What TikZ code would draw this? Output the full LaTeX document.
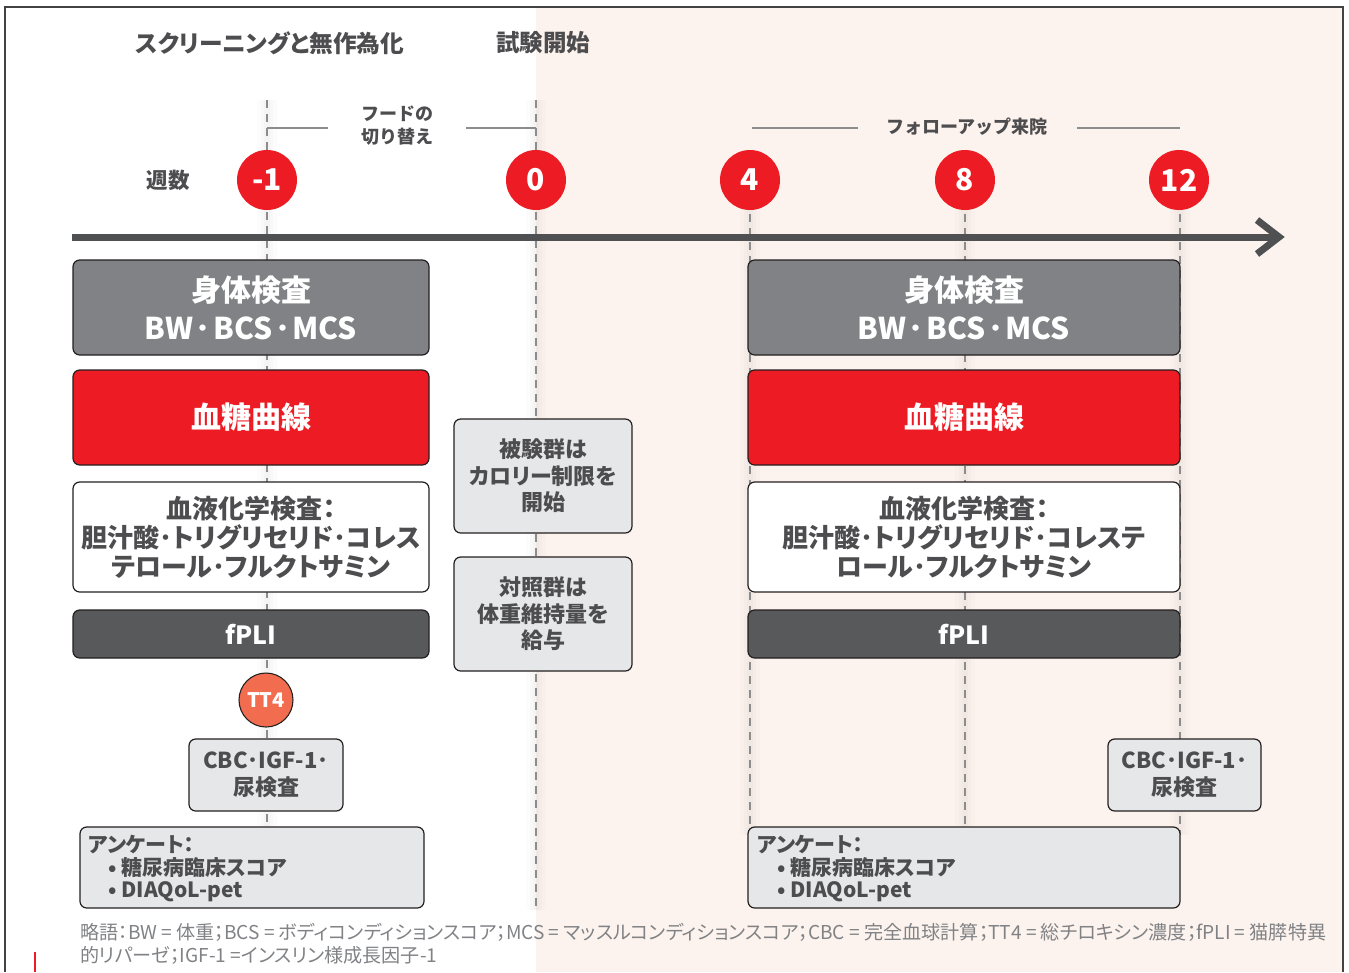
\documentclass[tikz,border=0pt]{standalone}
\usepackage{fontspec}
\setmainfont{Noto Sans CJK JP}[RawFeature=+palt]
\newfontfamily\jpfull{Noto Sans CJK JP}
\usetikzlibrary{calc}
\definecolor{txt}{HTML}{4D4D4F}
\definecolor{redc}{HTML}{ED1C24}
\definecolor{grayc}{HTML}{808285}
\definecolor{darkc}{HTML}{58595B}
\definecolor{lightc}{HTML}{E6E7E8}
\definecolor{tt}{HTML}{F26C4F}
\definecolor{pinkbg}{HTML}{FDF3EE}
\definecolor{edge}{HTML}{231F20}
\definecolor{dashc}{HTML}{8C8C8C}
\definecolor{foot}{HTML}{808285}
\newcommand\pxfont[2]{\pgfmathsetmacro\myfa{#1*0.75}\pgfmathsetmacro\myfb{#2*0.75}\fontsize{\myfa pt}{\myfb pt}\selectfont}
\newcommand\sep{\kern1.9pt･\kern1.9pt}
\begin{document}
\begin{tikzpicture}[x=0.75pt,y=-0.75pt,
  bx/.style 2 args={draw=edge,line width=0.9pt,rounded corners=5pt,inner sep=0pt,
    minimum width=#1*0.75pt,minimum height=#2*0.75pt,align=center},
  f/.style 2 args={font=\pxfont{#1}{#2}},
  fb/.style 2 args={font=\bfseries\pxfont{#1}{#2}},
  ff/.style 2 args={font=\jpfull\bfseries\pxfont{#1}{#2}},
  wk/.style={circle,fill=redc,text=white,inner sep=0pt,minimum size=45pt,fb={30}{30}},
  dsh/.style={draw=dashc,line width=0.9pt,dash pattern=on 6pt off 4.5pt},
  haloA/.style={draw=black,line width=15pt,opacity=0.012},
  haloB/.style={draw=black,line width=9pt,opacity=0.014},
  haloC/.style={draw=black,line width=4pt,opacity=0.016},
  brk/.style={draw=dashc,line width=1.5pt},
  axis/.style={draw=darkc!90!black,line width=5.25pt},
]
\useasboundingbox (0,0) rectangle (1349,972);
% background
\fill[pinkbg] (536,8) rectangle (1343,972);
\draw[edge!85,line width=1.1pt] (5,972) -- (5,7) -- (1343,7) -- (1343,972);
\draw[redc,line width=1.5pt] (35,952) -- (35,972);

% coordinates for dashed guide lines
\coordinate (t-1) at (267,100); \coordinate (b-1) at (267,835);
\coordinate (t0) at (536,100);  \coordinate (b0) at (536,910);
\coordinate (t4) at (750,200);  \coordinate (b4) at (750,835);
\coordinate (t8) at (965,200);  \coordinate (b8) at (965,835);
\coordinate (t12) at (1180,200); \coordinate (b12) at (1180,835);
\foreach \n in {-1,0,4,8,12}{\draw[haloA] (t\n) -- (b\n);\draw[haloB] (t\n) -- (b\n);\draw[haloC] (t\n) -- (b\n);}
\foreach \n in {-1,0,4,8,12}{\draw[dsh] (t\n) -- (b\n);}

% headers
\node[fb={23.7}{28},text=txt] (h1) at (270,43) {スクリーニングと無作為化};
\node[fb={23.5}{28},text=txt] (h2) at (543,43) {試験開始};
\node[fb={21.5}{26},text=txt] (wk) at (168,180) {週数};

% brackets
\node[ff={18}{23},text=txt,align=center] (food) at (397,126) {フードの\\切り替え};
\coordinate (fl) at (267,128); \coordinate (fr) at (536,128);
\draw[brk] (fl) -- (328,128);
\draw[brk] (466,128) -- (fr);
\node[ff={18}{23},text=txt] (fol) at (967,127) {フォローアップ来院};
\coordinate (ol) at (752,128); \coordinate (or) at (1180,128);
\draw[brk] (ol) -- (858,128);
\draw[brk] (1077,128) -- (or);

% timeline
\coordinate (ax0) at (72,237); \coordinate (ax1) at (1276,237);
\draw[axis] (ax0) -- (ax1);
\draw[axis,line join=miter] ($(ax1)+(-19,-17)$) -- ($(ax1)+(3,0)$) -- ($(ax1)+(-19,17)$);

% week circles
\node[wk] (w-1) at (267,180) {-1};
\node[wk] (w0) at (536,180) {0};
\node[wk] (w4) at (750,180) {4};
\node[wk] (w8) at (965,180) {8};
\node[wk] (w12) at (1179,180) {12};

% left column
\node[bx={356}{95},fill=grayc,text=white,fb={30}{38}] (pe1) at (251,307.5) {身体検査\\BW\sep BCS\sep MCS};
\node[bx={356}{95},fill=redc,text=white,fb={30}{38}] (gc1) at (251,417.5) {血糖曲線};
\node[bx={356}{110},fill=white,text=txt,fb={26}{29}] (bc1) at (251,537) {血液化学検査：\\胆汁酸･トリグリセリド･コレス\\テロール･フルクトサミン};
\node[bx={356}{48},fill=darkc,text=white,fb={25}{30}] (fp1) at (251,634) {fPLI};
\node[circle,draw=edge,line width=0.8pt,fill=tt,text=white,inner sep=0pt,minimum size=40.5pt,fb={20}{20}] (tt4) at (266,700) {TT4};
\node[bx={154}{72},fill=lightc,text=txt,fb={22}{27}] (cbc1) at (266,775) {CBC･IGF-1･\\尿検査};
\node[bx={344}{81},fill=lightc] (sv1) at (252,867.5) {};
\node[anchor=north west,inner sep=0pt,text=txt,fb={21}{22.5},align=left] (sv1t) at (88,835) {アンケート：\\\hspace*{15pt}• 糖尿病臨床スコア\\\hspace*{15pt}• DIAQoL-pet};

% middle column
\node[bx={178}{114},fill=lightc,text=txt,fb={22}{26.5}] (cr) at (543,476) {被験群は\\カロリー制限を\\開始};
\node[bx={178}{114},fill=lightc,text=txt,fb={22}{26.5}] (ct) at (543,614) {対照群は\\体重維持量を\\給与};

% right column
\node[bx={432}{95},fill=grayc,text=white,fb={30}{38}] (pe2) at (964,307.5) {身体検査\\BW\sep BCS\sep MCS};
\node[bx={432}{95},fill=redc,text=white,fb={30}{38}] (gc2) at (964,417.5) {血糖曲線};
\node[bx={432}{110},fill=white,text=txt,fb={26}{29}] (bc2) at (964,537) {血液化学検査：\\胆汁酸･トリグリセリド･コレステ\\ロール･フルクトサミン};
\node[bx={432}{48},fill=darkc,text=white,fb={25}{30}] (fp2) at (964,634) {fPLI};
\node[bx={153}{72},fill=lightc,text=txt,fb={22}{27}] (cbc2) at (1184.5,775) {CBC･IGF-1･\\尿検査};
\node[bx={432}{81},fill=lightc] (sv2) at (964,867.5) {};
\node[anchor=north west,inner sep=0pt,text=txt,fb={21}{22.5},align=left] (sv2t) at (757,835) {アンケート：\\\hspace*{15pt}• 糖尿病臨床スコア\\\hspace*{15pt}• DIAQoL-pet};

% footer
\node[anchor=north west,inner sep=0pt,text=foot,f={19.1}{23},align=left] (fn) at (80,923) {略語：BW = 体重；BCS = ボディコンディションスコア；MCS = マッスルコンディションスコア；CBC = 完全血球計算；TT4 = 総チロキシン濃度；fPLI = 猫膵特異\\的リパーゼ；IGF-1 =インスリン様成長因子-1};
\end{tikzpicture}
\end{document}
